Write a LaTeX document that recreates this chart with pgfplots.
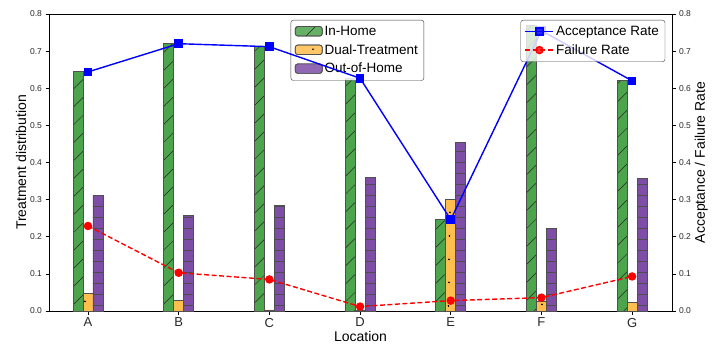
\documentclass[border=0pt]{standalone}
\usepackage{pgfplots}
\pgfplotsset{compat=1.18}
\usetikzlibrary{patterns.meta}
\usepackage{fontspec}
\setmainfont{Liberation Sans}
\definecolor{ingreen}{RGB}{76,164,76}
\definecolor{dualorange}{RGB}{255,190,77}
\definecolor{outpurple}{RGB}{126,78,166}
\definecolor{edgegray}{RGB}{80,80,80}
\definecolor{txt}{RGB}{40,40,40}
\begin{document}
\begin{tikzpicture}
\path[use as bounding box] (0,0) rectangle (720pt,360pt);
\pgfplotsset{
  common/.style={
    at={(49pt,49pt)}, anchor=south west,
    width=623pt, height=297pt, scale only axis,
    xmin=-0.43, xmax=6.44, ymin=0, ymax=0.8,
    ytick={0,0.1,0.2,0.3,0.4,0.5,0.6,0.7,0.8},
    yticklabel style={/pgf/number format/fixed,/pgf/number format/precision=1,/pgf/number format/fixed zerofill,font=\fontsize{8.5}{10}\selectfont,text=txt},
    /pgf/number format/assume math mode=true,
    tick align=outside, major tick length=3.5pt,
    tick style={black, line width=0.6pt},
    label style={font=\fontsize{14}{16}\selectfont},
  },
  leg/.style={draw=black!75, rounded corners=2.5pt,
    font=\fontsize{13.5}{15}\selectfont, fill=white, text opacity=1,
    row sep=3.5pt, inner xsep=4pt, inner ysep=4pt,
    /tikz/every even column/.append style={column sep=7pt}},
}
\begin{axis}[common,
  axis line style={black, line width=0.8pt},
  xtick={0,1,2,3,4,5,6}, xticklabels={A,B,C,D,E,F,G},
  xticklabel style={font=\fontsize{13}{15}\selectfont,text=txt},
  xtick pos=bottom, ytick pos=left,
  xlabel={Location}, ylabel={Treatment distribution},
  xlabel style={yshift=3pt},
  ylabel style={yshift=-3pt},
  legend style={leg, at={(0.388,0.98)}, anchor=north west, fill opacity=0.85},
  legend cell align=left,
  legend image code/.code={\draw[#1] (0pt,-4.5pt) rectangle (27pt,5pt);},
]
\addplot[ybar, bar width=0.11, bar shift=-0.11, fill=ingreen, draw=edgegray, line width=0.7pt,
  postaction={pattern color=black!85, pattern={Lines[angle=45,distance=12.7pt,line width=0.5pt]}}]
  coordinates {(0,0.645) (1,0.72) (2,0.712) (3,0.628) (4,0.246) (5,0.77) (6,0.621)};
\addlegendentry{In-Home}
\addplot[ybar, bar width=0.11, bar shift=0, fill=dualorange, draw=edgegray, line width=0.7pt,
  postaction={pattern color=black, pattern={Dots[distance=17pt,radius=1.1pt,angle=45]}}]
  coordinates {(0,0.047) (1,0.028) (2,0.003) (3,0.001) (4,0.30) (5,0.026) (6,0.022)};
\addlegendentry{Dual-Treatment}
\addplot[ybar, bar width=0.11, bar shift=0.11, fill=outpurple, draw=edgegray, line width=0.7pt,
  postaction={pattern color=black!70, pattern={Lines[angle=0,distance=11pt,line width=0.5pt]}}]
  coordinates {(0,0.311) (1,0.257) (2,0.284) (3,0.36) (4,0.455) (5,0.222) (6,0.357)};
\addlegendentry{Out-of-Home}
\end{axis}
\begin{axis}[common,
  axis x line=none, axis y line*=right,
  axis line style={black, line width=0.8pt},
  ylabel={Acceptance / Failure Rate},
  ylabel style={yshift=3pt},
  legend style={leg, at={(0.989,0.98)}, anchor=north east, fill opacity=0.8},
  legend cell align=left,
  legend image code/.code={\draw[mark repeat=2,mark phase=2,#1] plot coordinates {(0pt,0pt) (14pt,0pt) (28pt,0pt)};},
]
\addplot[blue, line width=1.4pt, mark=square*, mark size=3.6pt, mark options={solid}]
  coordinates {(0,0.644) (1,0.72) (2,0.712) (3,0.627) (4,0.246) (5,0.755) (6,0.62)};
\addlegendentry{Acceptance Rate}
\addplot[red, line width=1.4pt, dash pattern=on 5pt off 2.5pt, mark=*, mark size=3.5pt, mark options={solid}]
  coordinates {(0,0.229) (1,0.103) (2,0.085) (3,0.012) (4,0.028) (5,0.036) (6,0.093)};
\addlegendentry{Failure Rate}
\end{axis}
\end{tikzpicture}
\end{document}
